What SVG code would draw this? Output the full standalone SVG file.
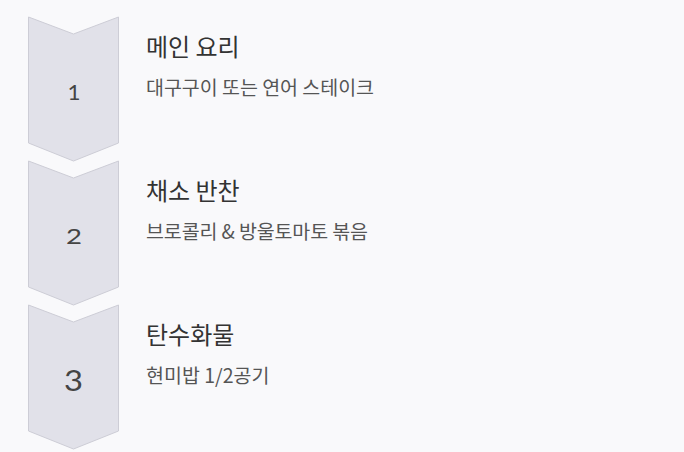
<svg xmlns="http://www.w3.org/2000/svg" width="684" height="452" viewBox="0 0 684 452">
<style>
.chev{fill:#e1e1e9;stroke:#cdcdd6;stroke-width:1}
.num{font-family:Lato,"DejaVu Sans",sans-serif;fill:#444;text-anchor:middle}
.title{font-family:"Noto Sans CJK KR","Noto Sans",sans-serif;font-size:24px;fill:#333}
.sub{font-family:"Noto Sans CJK KR","Noto Sans",sans-serif;font-size:19.5px;fill:#555}
</style>
<rect width="684" height="452" fill="#f9f9fb"/>
<defs>
<path id="chevron" d="M28.5,17 L73.5,34 L118.5,17 L118.5,143 L73.5,161 L28.5,143 Z"/>
</defs>
<g id="step1">
<use href="#chevron" class="chev"/>
<text class="num" x="74" y="99.5" font-size="22" textLength="13" lengthAdjust="spacingAndGlyphs">1</text>
<text class="title" x="146" y="56">메인 요리</text>
<text class="sub" x="146" y="94.5" textLength="228" lengthAdjust="spacing">대구구이 또는 연어 스테이크</text>
</g>
<g id="step2">
<use href="#chevron" class="chev" transform="translate(0,144)"/>
<text class="num" x="74" y="244" font-size="22" textLength="16" lengthAdjust="spacingAndGlyphs">2</text>
<text class="title" x="146" y="200">채소 반찬</text>
<text class="sub" x="146" y="238.5" textLength="222" lengthAdjust="spacing">브로콜리 &amp; 방울토마토 볶음</text>
</g>
<g id="step3">
<use href="#chevron" class="chev" transform="translate(0,288)"/>
<text class="num" x="73.5" y="390.5" font-size="29" textLength="19" lengthAdjust="spacingAndGlyphs">3</text>
<text class="title" x="146" y="344">탄수화물</text>
<text class="sub" x="146" y="383">현미밥 1/2공기</text>
</g>
<g id="connectors"/>
</svg>
